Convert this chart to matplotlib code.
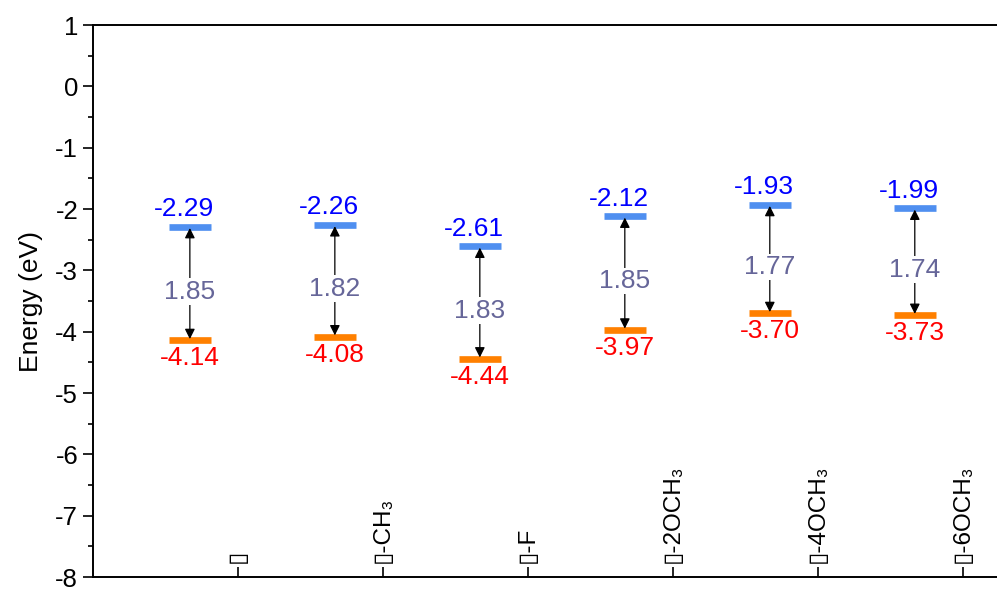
import numpy as np
import matplotlib
matplotlib.use("Agg")
import matplotlib.pyplot as plt
from matplotlib.ticker import MultipleLocator

plt.rcParams["font.family"] = ["Liberation Sans", "DejaVu Sans"]
plt.rcParams["axes.unicode_minus"] = False

labels = ["\u25af", "\u25af-CH\u2083", "\u25af-F", "\u25af-2OCH\u2083", "\u25af-4OCH\u2083", "\u25af-6OCH\u2083"]
lumo = [-2.29, -2.26, -2.61, -2.12, -1.93, -1.99]
homo = [-4.14, -4.08, -4.44, -3.97, -3.70, -3.73]
gap = [1.85, 1.82, 1.83, 1.85, 1.77, 1.74]

fig = plt.figure(figsize=(9.97, 5.9), dpi=100)
ax = fig.add_axes([0.093, 0.022, 0.907, 0.9356])

ticks = np.arange(1, 7)
xs = ticks - 0.33
hw = 0.145
fs = 19

ax.hlines(lumo, xs - hw, xs + hw, color="#4f8ff0", lw=4.8)
ax.hlines(homo, xs - hw, xs + hw, color="#ff8000", lw=4.8)

for x, lu, ho, g in zip(xs, lumo, homo, gap):
    ax.annotate("", xy=(x, lu - 0.02), xytext=(x, ho + 0.02),
                arrowprops=dict(arrowstyle="<|-|>", color="black", lw=0.9,
                                shrinkA=0, shrinkB=0, mutation_scale=15))
    ax.text(x - 0.04, lu + 0.09, f"{lu:.2f}", color="#0000ff", fontsize=fs,
            ha="center", va="bottom")
    ax.text(x, ho - 0.1, f"{ho:.2f}", color="#ff0000", fontsize=fs,
            ha="center", va="top")
    ax.text(x, (lu + ho) / 2 - 0.13, f"{g:.2f}", color="#666699", fontsize=fs,
            ha="center", va="center",
            bbox=dict(facecolor="white", edgecolor="none", pad=1))

ax.set_xlim(0, 6.237)
ax.set_ylim(-8, 1)
ax.yaxis.set_major_locator(MultipleLocator(1))
ax.yaxis.set_minor_locator(MultipleLocator(0.5))
ax.set_ylabel("Energy (eV)", fontsize=fs, labelpad=9)

ax.set_xticks(ticks)
ax.set_xticklabels(labels, rotation=90, va="bottom", ha="center", fontsize=17.5)
ax.tick_params(axis="x", direction="in", length=7, width=1.2, pad=-10)
ax.tick_params(axis="y", which="major", direction="out", length=7, width=1.2,
               labelsize=18.5)
ax.tick_params(axis="y", which="minor", direction="out", length=3.5, width=1.2)

ax.spines["right"].set_visible(False)
for s in ["left", "bottom", "top"]:
    ax.spines[s].set_linewidth(1.4)

fig.savefig("out.png", dpi=100)
